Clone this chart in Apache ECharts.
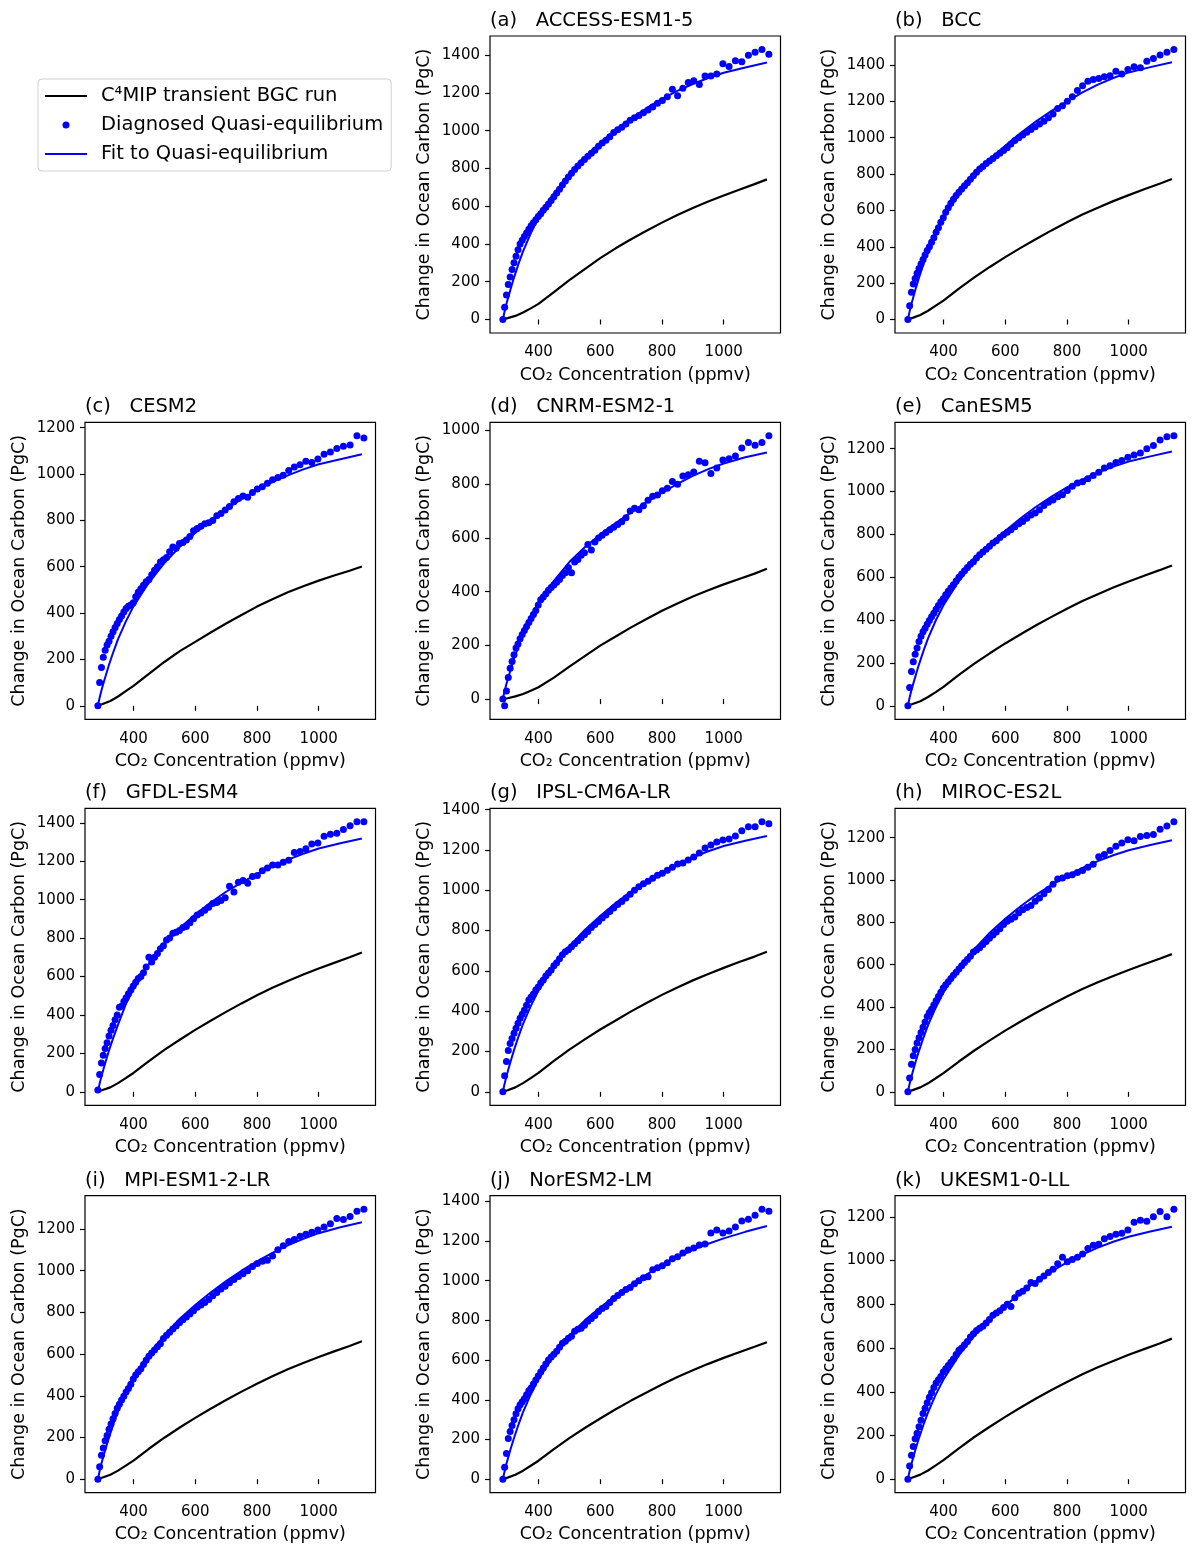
<!DOCTYPE html>
<html><head><meta charset="utf-8">
<script src="https://cdn.jsdelivr.net/npm/echarts@6/dist/echarts.min.js"></script>
<style>html,body{margin:0;padding:0;background:#fff}#chart{width:1200px;height:1555px}</style>
</head><body><div id="chart"></div>
<script>
// CO2 concentration (ppmv) at which the quasi-equilibrium points are diagnosed (every 2 years)
const CO2_QE = [284.7,290.4,296.3,302.2,308.3,314.5,320.8,327.3,333.8,340.5,347.4,354.4,361.5,368.8,376.2,383.7,391.4,399.3,407.3,415.5,423.9,432.4,441.1,450.0,459.0,468.2,477.6,487.2,497.0,507.0,517.2,527.6,538.2,549.0,560.1,571.3,582.8,594.5,606.5,618.6,631.1,643.8,656.7,669.9,683.4,697.1,711.1,725.4,740.0,754.9,770.0,785.5,801.3,817.4,833.8,850.6,867.7,885.1,902.9,921.1,939.6,958.5,977.7,997.4,1017.4,1037.9,1058.7,1080.0,1101.7,1123.9,1146.4];
// CO2 concentration for the transient run curve
const CO2_TRANS = [284.7,300,325,350,375,400,450,500,550,600,650,700,750,800,850,900,950,1000,1050,1100,1140];
// CO2 concentration for the fitted curve
const CO2_FIT = [284.7,290,296,303,310,320,335,350,375,400,450,500,550,600,650,700,750,800,850,900,950,1000,1070,1140];

const X_TICKS = [400,600,800,1000];
const Y_TICKS_1000 = [0,200,400,600,800,1000];
const Y_TICKS_1200 = [0,200,400,600,800,1000,1200];
const Y_TICKS_1400 = [0,200,400,600,800,1000,1200,1400];

const MODELS = ['ACCESS-ESM1-5','BCC','CESM2','CNRM-ESM2-1','CanESM5','GFDL-ESM4','IPSL-CM6A-LR','MIROC-ES2L','MPI-ESM1-2-LR','NorESM2-LM','UKESM1-0-LL'];
const LETTERS = ['(a)','(b)','(c)','(d)','(e)','(f)','(g)','(h)','(i)','(j)','(k)'];
const SERIES_NAMES = ['C\u2074MIP transient BGC run','Diagnosed Quasi-equilibrium','Fit to Quasi-equilibrium'];

// ---- (a) ACCESS-ESM1-5
const qe_a = [0,65,130,185,225,265,300,335,370,400,420,440,458,478,496,512,528,545,560,578,594,612,630,650,670,690,712,733,755,775,795,813,830,848,865,880,897,918,935,950,968,990,1005,1018,1035,1055,1068,1080,1095,1110,1125,1145,1160,1180,1220,1185,1225,1255,1265,1245,1290,1290,1300,1355,1340,1370,1365,1400,1415,1430,1405];
const tr_a = [0,7,19,37,59,83,145,208,267,325,377,425,470,513,554,591,625,657,687,717,742];
const fit_a = [0,41,82,122,163,218,293,361,456,538,667,772,861,936,1004,1065,1119,1168,1211,1247,1279,1307,1335,1361];
// ---- (b) BCC
const qe_b = [0,75,150,195,225,255,280,305,330,355,380,400,425,450,480,505,535,560,590,615,640,662,682,700,718,735,752,772,790,810,828,842,858,872,885,900,915,930,945,965,985,1000,1015,1030,1045,1060,1075,1090,1110,1130,1160,1175,1200,1225,1260,1285,1310,1320,1325,1335,1340,1365,1350,1375,1390,1385,1420,1435,1455,1470,1485];
const tr_b = [0,9,25,48,76,104,170,232,289,343,394,443,490,535,577,615,651,684,716,747,773];
const fit_b = [0,42,85,127,170,226,304,375,474,559,693,798,880,955,1025,1090,1147,1198,1249,1292,1328,1359,1388,1415];
// ---- (c) CESM2
const qe_c = [0,100,165,210,240,262,278,300,320,338,355,372,388,405,420,430,435,445,470,490,505,520,535,545,565,585,600,620,630,640,665,685,680,700,705,715,730,755,765,775,785,790,800,820,830,845,860,880,895,905,900,920,935,945,960,975,985,995,1015,1030,1040,1055,1050,1065,1085,1095,1110,1120,1125,1165,1155];
const tr_c = [0,8,21,40,63,86,138,189,236,276,316,355,392,428,460,490,516,540,562,583,601];
const fit_c = [0,33,65,98,130,174,233,288,363,429,532,616,686,746,800,849,892,931,965,994,1020,1042,1064,1085];
// ---- (d) CNRM-ESM2-1
const qe_d = [0,-25,30,80,115,140,165,190,205,225,240,255,270,285,300,315,330,350,370,380,392,405,415,425,435,445,460,470,490,470,510,520,535,545,575,555,585,600,610,620,630,640,650,660,675,700,710,705,720,740,755,760,775,785,810,800,830,835,845,885,880,840,860,890,895,905,935,955,945,955,980];
const tr_d = [0,3,10,19,31,44,80,121,160,199,233,267,298,329,356,382,405,427,447,467,485];
const fit_d = [0,28,55,83,110,147,197,243,308,360,440,510,565,612,655,695,733,768,801,831,856,877,900,918];
// ---- (e) CanESM5
const qe_e = [0,85,160,205,240,270,300,325,345,362,380,398,415,432,450,468,485,500,518,535,550,565,582,600,615,630,645,660,672,690,705,718,730,745,760,770,785,798,810,822,835,850,860,875,890,900,915,935,950,960,975,985,1005,1025,1040,1045,1060,1075,1090,1110,1120,1135,1145,1160,1170,1180,1200,1215,1240,1255,1260];
const tr_e = [0,8,21,41,64,88,144,197,245,291,334,376,415,453,489,521,552,580,607,633,655];
const fit_e = [0,36,71,107,142,190,255,315,398,469,582,674,751,816,875,929,976,1019,1056,1088,1116,1140,1164,1187];
// ---- (f) GFDL-ESM4
const qe_f = [10,90,150,190,225,255,290,320,345,375,400,440,445,470,490,510,530,550,570,590,600,620,650,700,675,700,720,745,760,790,800,825,830,840,855,860,880,900,920,930,945,960,980,985,995,1010,1070,1040,1090,1100,1085,1120,1125,1150,1165,1180,1180,1195,1205,1245,1250,1265,1290,1295,1330,1340,1345,1365,1385,1405,1405];
const tr_f = [0,9,23,45,71,98,160,218,271,322,370,416,460,502,541,577,610,642,671,700,725];
const fit_f = [0,40,79,119,158,211,283,350,455,535,665,768,852,922,985,1041,1089,1133,1172,1208,1239,1266,1293,1318];
// ---- (g) IPSL-CM6A-LR
const qe_g = [0,80,150,205,240,265,290,315,340,365,385,405,430,455,470,485,505,520,540,555,575,590,605,625,640,660,680,695,705,720,735,750,765,780,795,815,830,845,862,878,895,912,930,945,962,980,1000,1018,1032,1045,1060,1075,1085,1100,1115,1130,1135,1150,1165,1185,1210,1225,1240,1250,1255,1270,1295,1315,1315,1340,1330];
const tr_g = [0,8,22,43,68,94,153,209,260,309,354,399,441,481,518,553,585,615,644,671,695];
const fit_g = [0,38,76,114,152,203,273,337,425,502,622,721,803,873,937,994,1045,1090,1130,1164,1194,1220,1246,1270];
// ---- (h) MIROC-ES2L
const qe_h = [0,65,130,170,200,230,255,280,305,330,355,375,390,410,430,450,470,490,505,520,535,550,565,580,595,610,625,640,660,670,680,695,710,725,740,755,770,790,805,815,825,845,860,870,880,900,915,935,955,980,1005,1010,1020,1025,1035,1045,1060,1075,1110,1120,1140,1160,1175,1190,1185,1205,1210,1215,1240,1255,1275];
const tr_h = [0,8,21,40,64,88,143,195,243,289,332,373,412,450,485,517,547,575,602,628,650];
const fit_h = [0,36,71,107,143,190,255,315,398,469,582,674,751,817,876,930,977,1020,1057,1089,1117,1141,1165,1188];
// ---- (i) MPI-ESM1-2-LR
const qe_i = [0,60,115,150,185,210,240,265,290,315,340,360,380,398,418,435,455,480,500,515,530,550,570,590,605,620,635,650,675,690,705,720,735,750,765,778,792,808,825,835,848,862,880,895,912,925,942,958,972,985,1000,1020,1035,1045,1050,1070,1100,1120,1140,1150,1165,1175,1185,1195,1210,1225,1250,1245,1260,1285,1295];
const tr_i = [0,8,21,41,65,89,146,199,248,294,338,380,420,458,494,527,557,586,613,639,662];
const fit_i = [0,37,74,111,148,197,265,326,413,485,600,690,770,835,895,950,1000,1045,1086,1122,1153,1180,1208,1232];
// ---- (j) NorESM2-LM
const qe_j = [0,60,130,205,240,270,300,330,355,375,390,405,425,445,460,480,500,520,540,560,580,600,615,630,645,665,685,695,710,720,745,755,760,775,795,810,825,845,860,870,890,910,925,940,955,965,985,1000,1015,1020,1055,1065,1075,1090,1110,1120,1140,1155,1165,1180,1185,1240,1255,1240,1250,1270,1300,1310,1330,1360,1350];
const tr_j = [0,8,22,43,68,93,152,207,258,306,352,396,437,477,515,549,581,611,639,667,690];
const fit_j = [0,38,77,115,153,204,274,338,427,504,625,724,800,865,925,980,1030,1078,1118,1155,1186,1213,1246,1275];
// ---- (k) UKESM1-0-LL
const qe_k = [0,60,110,150,185,210,240,270,300,325,350,375,395,420,440,455,470,490,505,520,535,550,570,590,600,615,630,650,665,680,690,700,715,730,750,760,770,785,800,790,830,850,860,875,900,895,915,930,945,960,985,1015,995,1005,1015,1030,1055,1070,1075,1100,1110,1120,1125,1140,1175,1185,1180,1200,1225,1200,1235];
const tr_k = [0,8,21,40,63,87,141,193,240,285,328,369,408,445,480,512,541,569,595,621,643];
const fit_k = [0,35,69,104,139,185,248,306,387,456,566,655,731,794,852,904,950,992,1027,1059,1086,1109,1133,1155];

const PANELS = [
  {qe: qe_a, tr: tr_a, fit: fit_a, yt: Y_TICKS_1400},
  {qe: qe_b, tr: tr_b, fit: fit_b, yt: Y_TICKS_1400},
  {qe: qe_c, tr: tr_c, fit: fit_c, yt: Y_TICKS_1200},
  {qe: qe_d, tr: tr_d, fit: fit_d, yt: Y_TICKS_1000},
  {qe: qe_e, tr: tr_e, fit: fit_e, yt: Y_TICKS_1200},
  {qe: qe_f, tr: tr_f, fit: fit_f, yt: Y_TICKS_1400},
  {qe: qe_g, tr: tr_g, fit: fit_g, yt: Y_TICKS_1400},
  {qe: qe_h, tr: tr_h, fit: fit_h, yt: Y_TICKS_1200},
  {qe: qe_i, tr: tr_i, fit: fit_i, yt: Y_TICKS_1200},
  {qe: qe_j, tr: tr_j, fit: fit_j, yt: Y_TICKS_1400},
  {qe: qe_k, tr: tr_k, fit: fit_k, yt: Y_TICKS_1200}
];

// ---- layout
const SLOTS = [[0,1],[0,2],[1,0],[1,1],[1,2],[2,0],[2,1],[2,2],[3,0],[3,1],[3,2]];
const COL_LEFT = [85, 490, 895];
const ROW_TOP = [36, 422.3, 808.3, 1195.7];
const GW = 290.5, GH = 297;
const FONT = 'DejaVu Sans';
const BLUE = '#0000ff';
const plain = v => String(v);

const grid = [], xAxis = [], yAxis = [], series = [], title = [];
PANELS.forEach((p, i) => {
  const [r, c] = SLOTS[i];
  const left = COL_LEFT[c], top = ROW_TOP[r];
  grid.push({left: left, top: top, width: GW, height: GH, show: true, borderColor: '#000', borderWidth: 1.2,
    backgroundColor: 'transparent', containLabel: false, outerBoundsMode: 'none'});
  const allY = p.qe.concat(p.tr, p.fit);
  const lo = Math.min(...allY), hi = Math.max(...allY);
  const pad = 0.05 * (hi - lo);
  xAxis.push({
    gridIndex: i, type: 'value', min: 243, max: 1184,
    name: 'CO\u2082 Concentration (ppmv)', nameLocation: 'middle', nameGap: 33,
    nameTextStyle: {fontFamily: FONT, fontSize: 17.5, color: '#000'},
    axisLine: {show: false}, splitLine: {show: false},
    axisTick: {show: true, length: 5, inside: false, customValues: X_TICKS, lineStyle: {color: '#000', width: 1.2}},
    axisLabel: {show: true, margin: 12, customValues: X_TICKS, formatter: plain, fontFamily: FONT, fontSize: 15, color: '#000'}
  });
  yAxis.push({
    gridIndex: i, type: 'value', min: lo - pad, max: hi + pad,
    name: 'Change in Ocean Carbon (PgC)', nameLocation: 'middle', nameGap: 57, nameRotate: 90,
    nameTextStyle: {fontFamily: FONT, fontSize: 17.5, color: '#000'},
    axisLine: {show: false}, splitLine: {show: false},
    axisTick: {show: true, length: 5, inside: false, customValues: p.yt, lineStyle: {color: '#000', width: 1.2}},
    axisLabel: {show: true, margin: 10, customValues: p.yt, formatter: plain, fontFamily: FONT, fontSize: 15, color: '#000'}
  });
  title.push({text: LETTERS[i] + '   ' + MODELS[i], left: left, top: top - 25, padding: 0,
    textStyle: {fontFamily: FONT, fontSize: 19.5, fontWeight: 'normal', color: '#000'}});
  series.push({
    name: SERIES_NAMES[0], type: 'line', xAxisIndex: i, yAxisIndex: i, symbol: 'none', showSymbol: false, smooth: false,
    data: p.tr.map((y, k) => [CO2_TRANS[k], y]),
    lineStyle: {color: '#000', width: 2.2}, itemStyle: {color: '#000'}, z: 2, silent: true
  });
  series.push({
    name: SERIES_NAMES[1], type: 'scatter', xAxisIndex: i, yAxisIndex: i, symbol: 'circle', symbolSize: 7,
    data: p.qe.map((y, k) => [CO2_QE[k], y]),
    itemStyle: {color: BLUE, opacity: 1}, z: 3, silent: true
  });
  series.push({
    name: SERIES_NAMES[2], type: 'line', xAxisIndex: i, yAxisIndex: i, symbol: 'none', showSymbol: false, smooth: false,
    data: p.fit.map((y, k) => [CO2_FIT[k], y]),
    lineStyle: {color: BLUE, width: 2}, itemStyle: {color: BLUE}, z: 4, silent: true
  });
});

const option = {
  animation: false,
  backgroundColor: '#fff',
  title: title,
  legend: {
    data: [
      {name: SERIES_NAMES[0], itemStyle: {opacity: 0}},
      {name: SERIES_NAMES[1]},
      {name: SERIES_NAMES[2], itemStyle: {opacity: 0}}
    ],
    orient: 'vertical', left: 38, top: 79,
    padding: [6, 8, 6, 6], itemGap: 7, itemWidth: 42, itemHeight: 7,
    borderColor: '#d0d0d0', borderWidth: 1, borderRadius: 4, backgroundColor: '#fff',
    selectedMode: false,
    textStyle: {fontFamily: FONT, fontSize: 19.5, color: '#000', lineHeight: 22, padding: [0, 0, 0, 9]}
  },
  grid: grid, xAxis: xAxis, yAxis: yAxis, series: series
};
const chart = echarts.init(document.getElementById('chart'), null, {renderer: 'canvas'});
chart.setOption(option);
</script></body></html>
